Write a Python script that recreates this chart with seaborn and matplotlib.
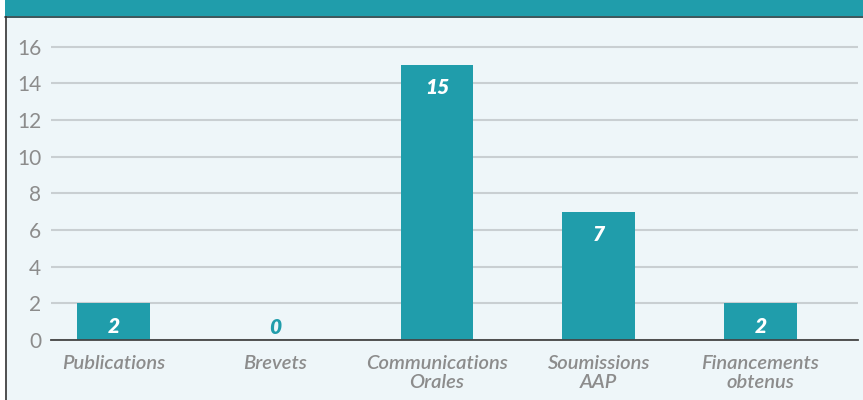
import matplotlib
matplotlib.use('Agg')
import matplotlib.pyplot as plt
import seaborn as sns
import pandas as pd
from matplotlib.patches import Rectangle
from matplotlib.lines import Line2D

# Chart data
categories = ['Publications', 'Brevets', 'Communications\nOrales', 'Soumissions\nAAP', 'Financements\nobtenus']
values = [2, 0, 15, 7, 2]
y_ticks = [0, 2, 4, 6, 8, 10, 12, 14, 16]

TEAL = '#209dab'
BG = '#eef6f9'
GRID = '#c9cfd2'
TEXT_GREY = '#8c8c8c'

sns.set_theme(style='white')
plt.rcParams['font.family'] = ['Lato', 'DejaVu Sans']

df = pd.DataFrame({'categorie': categories, 'valeur': values})

fig = plt.figure(figsize=(8.63, 4.0), dpi=100, facecolor='white')
W, H = 863, 400

# Panel background, header band and borders
fig.patches.append(Rectangle((5 / W, 0), 1 - 5 / W, 1, transform=fig.transFigure,
                             facecolor=BG, edgecolor='none', zorder=-2))
fig.patches.append(Rectangle((5 / W, 1 - 16 / H), 1 - 5 / W, 16 / H, transform=fig.transFigure,
                             facecolor=TEAL, edgecolor='none', zorder=-1))
fig.lines.append(Line2D([5 / W, 1], [1 - 16.5 / H, 1 - 16.5 / H], transform=fig.transFigure,
                        color='#1d3a40', linewidth=1.2, zorder=-1))
fig.lines.append(Line2D([5.5 / W, 5.5 / W], [0, 1], transform=fig.transFigure,
                        color='#333333', linewidth=1.2, zorder=-1))

ax = fig.add_axes([51 / W, 60 / H, 807 / W, 311.6 / H])
ax.set_facecolor('none')

sns.barplot(data=df, x='categorie', y='valeur', color=TEAL, width=0.45,
            saturation=1, linewidth=0, ax=ax, zorder=3)

ax.set_ylim(0, 17)
ax.set_xlim(-0.386, 4.603)
ax.set_yticks(y_ticks)
ax.yaxis.grid(True, color=GRID, linewidth=1.5)
ax.set_axisbelow(True)
for side in ['top', 'right', 'left']:
    ax.spines[side].set_visible(False)
ax.spines['bottom'].set_color('#444444')
ax.spines['bottom'].set_linewidth(1.3)
ax.spines['bottom'].set_zorder(4)

ax.tick_params(axis='y', length=0, pad=7, labelsize=15, labelcolor=TEXT_GREY)
ax.tick_params(axis='x', length=0, pad=11, labelsize=14.5, labelcolor=TEXT_GREY)
for lbl in ax.get_xticklabels():
    lbl.set_fontstyle('italic')
    lbl.set_fontweight('semibold')
    lbl.set_linespacing(1.1)
ax.set_xlabel('')
ax.set_ylabel('')

# Value labels
for i, v in enumerate(values):
    if v > 0:
        ax.annotate(str(v), (i, v), xytext=(0, -16.5), textcoords='offset points',
                    ha='center', va='center', color='white', fontsize=15,
                    fontweight='heavy', fontstyle='italic', zorder=5)
    else:
        ax.annotate(str(v), (i, v), xytext=(0, 9), textcoords='offset points',
                    ha='center', va='center', color=TEAL, fontsize=15,
                    fontweight='heavy', fontstyle='italic', zorder=5)

fig.savefig('out.png', dpi=100, facecolor='white')
